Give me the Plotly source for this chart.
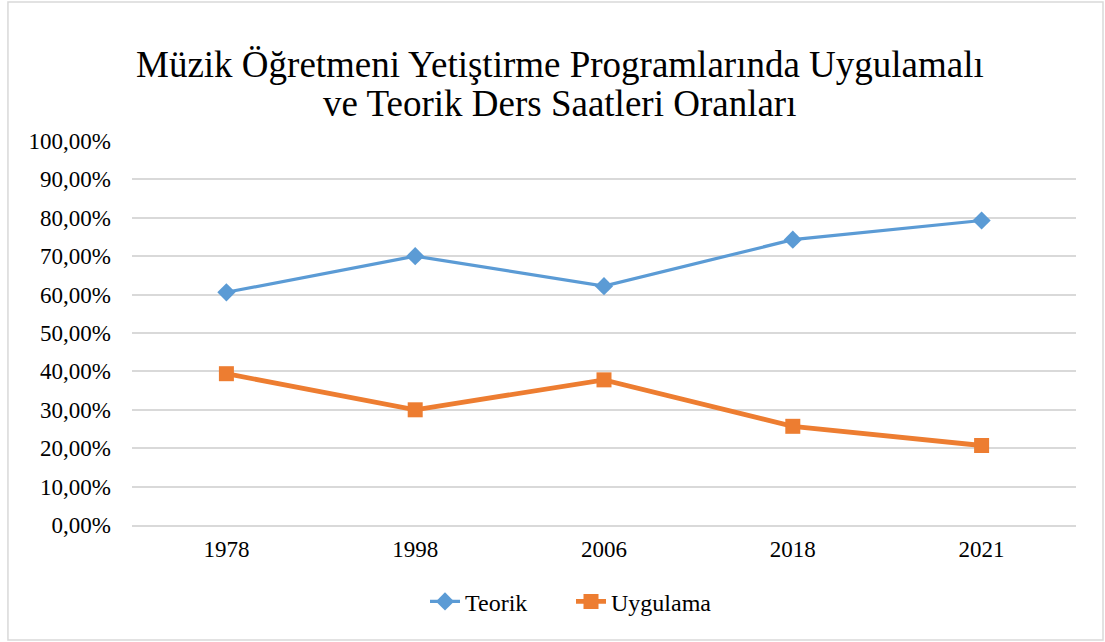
import plotly.graph_objects as go

years = ["1978", "1998", "2006", "2018", "2021"]
teorik = [0.606, 0.700, 0.622, 0.743, 0.793]
uygulama = [0.394, 0.300, 0.378, 0.257, 0.207]
y_ticks = [0, 0.1, 0.2, 0.3, 0.4, 0.5, 0.6, 0.7, 0.8, 0.9, 1.0]
title_lines = ["Müzik Öğretmeni Yetiştirme Programlarında Uygulamalı",
               "ve Teorik Ders Saatleri Oranları"]

FONT = "Liberation Serif, Times New Roman, serif"

fig = go.Figure()
fig.add_trace(go.Scatter(
    x=years, y=teorik, name="Teorik", mode="lines+markers",
    line=dict(color="#5B9BD5", width=3.2),
    marker=dict(symbol="diamond", size=14, color="#5B9BD5"),
))
fig.add_trace(go.Scatter(
    x=years, y=uygulama, name="Uygulama", mode="lines+markers",
    line=dict(color="#ED7D31", width=4.8),
    marker=dict(symbol="square", size=15, color="#ED7D31"),
))

fig.update_layout(
    width=1105, height=642, autosize=False,
    margin=dict(l=132, r=29, t=141, b=117, autoexpand=False),
    paper_bgcolor="white", plot_bgcolor="white",
    separators=",.",
    font=dict(family=FONT, size=23, color="#000000"),
    showlegend=True,
    legend=dict(
        orientation="h", xref="paper", x=(425 - 132) / 944, xanchor="left",
        yref="paper", y=-0.2, yanchor="middle",
        entrywidth=101, entrywidthmode="pixels",
        font=dict(family=FONT, size=24, color="#000000"),
    ),
    annotations=[
        dict(text=title_lines[0], xref="paper", yref="paper",
             x=(559.5 - 132) / 944, y=(525 - 64) / 384,
             xanchor="center", yanchor="middle", showarrow=False,
             font=dict(family=FONT, size=37, color="#000000")),
        dict(text=title_lines[1], xref="paper", yref="paper",
             x=(559.5 - 132) / 944, y=(525 - 104) / 384,
             xanchor="center", yanchor="middle", showarrow=False,
             font=dict(family=FONT, size=37, color="#000000")),
    ],
    shapes=[dict(
        type="rect", xref="paper", yref="paper",
        x0=-0.1314, x1=1.0286, y0=-0.2995, y1=1.362,
        line=dict(color="#D9D9D9", width=1.5), fillcolor="rgba(0,0,0,0)",
        layer="below",
    )],
)

fig.update_xaxes(
    type="category", range=[-0.5, 4.5], automargin=False,
    showgrid=False, showline=True, linecolor="#D9D9D9", linewidth=1.5,
    ticks="", tickfont=dict(family=FONT, size=23),
    ticklabelstandoff=3,
)
fig.update_yaxes(
    range=[0, 1.0], tickvals=y_ticks, tickformat=".2%", automargin=False,
    showgrid=True, gridcolor="#D9D9D9", gridwidth=1.5,
    zeroline=False, showline=False, ticks="",
    tickfont=dict(family=FONT, size=23),
    ticklabelstandoff=20,
)

fig.write_html("out.html", config={"displayModeBar": False},
               post_script="document.body.style.margin='0';")
